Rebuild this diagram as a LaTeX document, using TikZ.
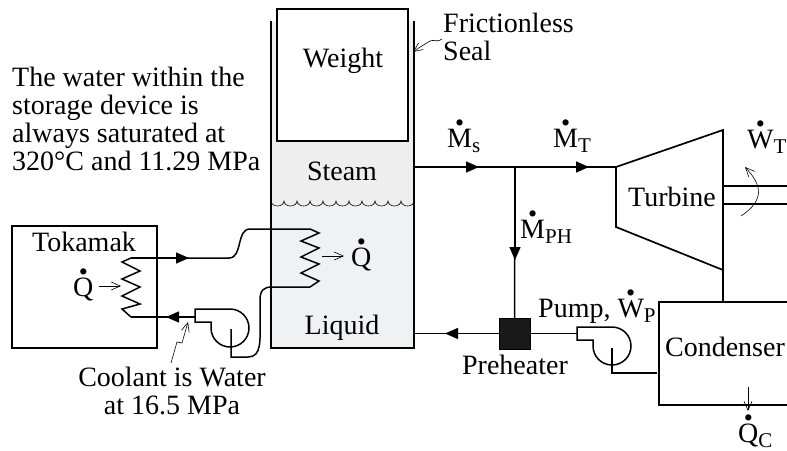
\documentclass[tikz,border=0pt]{standalone}
\usepackage{fontspec}
\setmainfont{Liberation Serif}
\usetikzlibrary{arrows.meta,positioning}
\newcommand{\dotted}[1]{\ooalign{#1\cr\hidewidth\raisebox{16pt}{\fontsize{26}{26}\selectfont\textbullet}\hidewidth\cr}}
\newcommand{\lowered}[1]{\raisebox{-5pt}{\fontsize{21}{21}\selectfont #1}}
\definecolor{steamfill}{HTML}{EEEEEE}
\definecolor{liquidfill}{HTML}{F0F1F3}
\tikzset{
  pipe/.style={line width=1.5pt},
  wall/.style={line width=1.7pt},
  thinarrow/.style={line width=0.6pt,-{Straight Barb[length=9pt,width=8pt]}},
  flow/.style={pipe,-{Triangle[length=13pt,width=11pt]}},
  lab/.style={inner sep=0pt,font=\fontsize{28}{28}\selectfont},
  rate/.style={lab,anchor=base west}
}
\begin{document}
\begin{tikzpicture}[x=1pt,y=-1pt]
\useasboundingbox (0,0) rectangle (787,450);
% vessel
\fill[steamfill] (271,21) rectangle (414,205);
\fill[liquidfill] (271,205) rectangle (414,348);
\draw[wall] (271,21) -- (271,348) -- (414,348) -- (414,21);
\node[wall,draw,fill=white,minimum width=131pt,minimum height=132pt,inner sep=0pt] (weight) at (342.5,75) {};
\node[lab] at (343,61) {Weight};
\coordinate (surf) at (271,201);
\draw[line width=0.6pt] (surf) \foreach \n in {1,...,11} {arc (180:360:6.5pt and 5pt)};
\node[lab] (steam) at (342,171) {Steam};
\node[lab] (liquid) at (342,328) {Liquid};
% tokamak
\node[wall,draw,minimum width=145pt,minimum height=122pt,inner sep=0pt] (tokamak) at (84.5,287) {};
\node[lab] at (84,242) {Tokamak};
\node[rate] (qa) at (73,296) {\dotted{Q}};
\coordinate (cola) at (131,258);
\coordinate (colb) at (131,317);
\draw[thinarrow] (99,286) -- (121,286);
\draw[pipe] (cola) -- (122,262) -- (140,271) -- (122,279) -- (140,287) -- (122,296) -- (140,304) -- (122,309) -- (colb);
% coil in the vessel
\coordinate (colc) at (310,229);
\coordinate (cold) at (310,287);
\draw[pipe] (colc) -- (319,233) -- (301,241) -- (319,248) -- (301,257) -- (319,264) -- (301,273) -- (319,281) -- (cold);
\node[rate] (qb) at (351,266) {\dotted{Q}};
\draw[thinarrow] (322,256) -- (344,256);
% primary pump
\coordinate (puma) at (195,317);
\coordinate (pumb) at (231,329);
\draw[pipe] (211,328) arc (180:360:19pt) arc (0:90:19pt) -- (195,309) -- (195,322) -- (211,322) -- (211,328);
\draw[pipe] (cola) -- (229,258) .. controls (243,258) and (236,229) .. (250,229) -- (colc);
\draw[pipe] (pumb) -- (231,357) -- (248,357) .. controls (262,357) and (260,340) .. (260,320) -- (260,300) .. controls (260,290) and (264,287) .. (272,287) -- (cold);
\draw[pipe] (puma) -- (colb);
\draw[flow] (cola) -- (189,258);
\draw[flow] (puma) -- (166,317);
\draw[thinarrow] (171,363) -- (177,342) -- (182,343) -- (188,322);
\node[lab,align=center] (coolant) at (172,391) {Coolant is Water\\at 16.5 MPa};
% note
\node[lab,align=left] (note) [anchor=west] at (12,119) {The water within the\\storage device is\\always saturated at\\320\textdegree C and 11.29 MPa};
\node[lab,align=left] (seal) [anchor=west] at (443,37) {Frictionless\\Seal};
\draw[thinarrow] (442,39) .. controls (436,43) and (434,39) .. (430,41) .. controls (426,44) and (424,44) .. (413,52);
% steam lines
\coordinate (vesa) at (414,167);
\coordinate (junc) at (515,167);
\coordinate (vesb) at (414,333.5);
\node[draw,fill=black!90,minimum size=31pt,inner sep=0pt] (preheater) at (514.5,333.5) {};
\node[lab] at (515,365) {Preheater};
\draw[pipe] (vesa) -- (616,167);
\draw[flow] (vesa) -- (479,167);
\draw[flow] (junc) -- (589,167);
\draw[pipe] (junc) -- (preheater.north);
\draw[flow] (junc) -- (515,260);
\draw[pipe] (preheater.west) -- (vesb);
\draw[flow] (preheater.west) -- (445,333.5);
\node[rate] (ms) at (447,147) {\dotted{M}\lowered{s}};
\node[rate] (mt) at (553,147) {\dotted{M}\lowered{T}};
\node[rate] (mph) at (520,238) {\dotted{M}\lowered{PH}};
% turbine
\draw[wall] (616,167) -- (723,130) -- (723,270) -- (616,227) -- cycle;
\node[lab] (turbine) at (672,197) {Turbine};
\draw[pipe] (723,186) -- (787,186);
\draw[pipe] (723,204) -- (787,204);
\draw[thinarrow] (741,216) .. controls (765,200) and (762,185) .. (745,167);
\node[rate] (wt) at (747,148) {\dotted{W}\lowered{T}};
% condenser
\draw[wall] (787,302) -- (659,302) -- (659,405) -- (787,405);
\node[lab] (condenser) at (725,347) {Condenser};
\draw[pipe] (723,270) -- (723,302);
\draw[pipe] (612,348) -- (612,373) -- (657,373);
\draw[pipe] (593,346) arc (180:360:19pt) arc (0:90:19pt) -- (577,327) -- (577,340) -- (593,340) -- (593,346);
\draw[pipe] (preheater.east) -- (577,333.5);
\node[rate] (pump) at (538,317) {Pump, \dotted{W}\lowered{P}};
\draw[thinarrow] (748,387) -- (748,411);
\node[rate] (qc) at (738,442) {\dotted{Q}\lowered{C}};
\end{tikzpicture}
\end{document}
